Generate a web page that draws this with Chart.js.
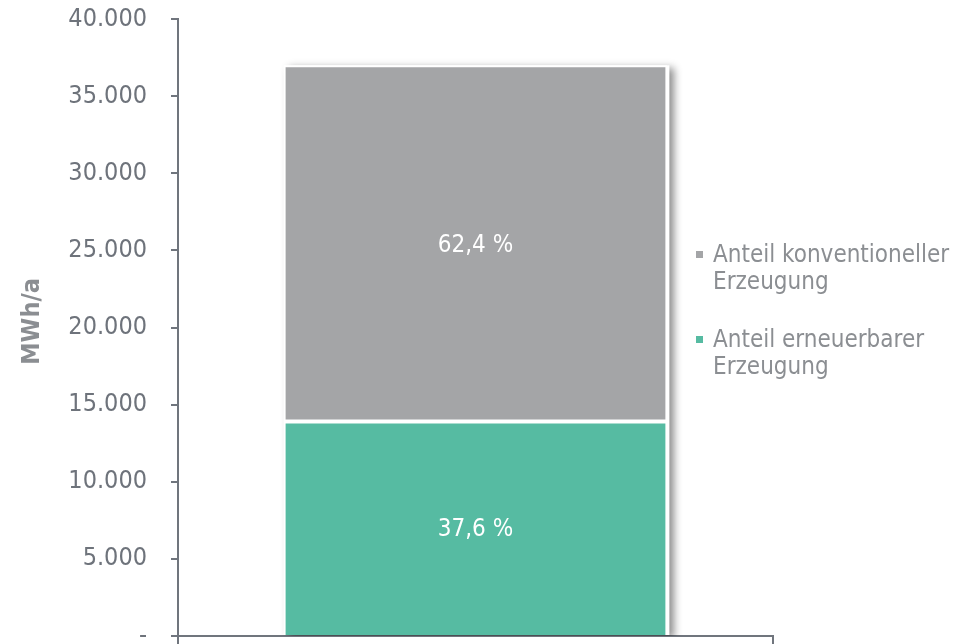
<!DOCTYPE html>
<html lang="de">
<head>
<meta charset="utf-8">
<title>Strom-Erzeugung MWh/a</title>
<script src="https://cdn.jsdelivr.net/npm/chart.js@4/dist/chart.umd.min.js"></script>
<style>
  html, body { margin: 0; padding: 0; background: #ffffff; }
  #wrap { width: 961px; height: 644px; }
</style>
</head>
<body>
<div id="wrap"><canvas id="c" width="961" height="644"></canvas></div>
<script>
// Data
const categories = [''];
const seriesNames = ['Anteil erneuerbarer Erzeugung', 'Anteil konventioneller Erzeugung'];
const renewable = [13912];
const conventional = [23088];
const yTickValues = [0, 5000, 10000, 15000, 20000, 25000, 30000, 35000, 40000];

const FONT = '"DejaVu Sans Condensed", "DejaVu Sans", Verdana, sans-serif';
const AXIS_COLOR = '#70757d';
const TEXT_COLOR = '#6e737b';
const LEGEND_COLOR = '#8b8e92';
const GREEN = '#56bba2';
const GREY = '#a4a5a7';

function fmtThousands(v) {
  if (v === 0) return '-';
  return String(v).replace(/\B(?=(\d{3})+(?!\d))/g, '.');
}

function fmtPct(v) {
  return v.toFixed(1).replace('.', ',') + ' %';
}

// White backing panel with a soft drop shadow behind the stacked column
const shadowPanel = {
  id: 'shadowPanel',
  beforeDatasetsDraw(chart) {
    const ctx = chart.ctx;
    const area = chart.chartArea;
    const bottomEl = chart.getDatasetMeta(0).data[0];
    const topEl = chart.getDatasetMeta(1).data[0];
    if (!bottomEl || !topEl) return;
    const left = topEl.x - topEl.width / 2;
    const right = topEl.x + topEl.width / 2;
    const top = topEl.y;
    const bottom = bottomEl.base;
    ctx.save();
    ctx.beginPath();
    ctx.rect(area.left, area.top - 10, area.right - area.left + 20, area.bottom - area.top + 10);
    ctx.clip();
    ctx.shadowColor = 'rgba(0,0,0,0.45)';
    ctx.shadowBlur = 8;
    ctx.shadowOffsetX = 5;
    ctx.shadowOffsetY = 3;
    ctx.fillStyle = '#ffffff';
    ctx.fillRect(left, top, right - left + 2, bottom - top);
    ctx.restore();
  }
};

// Percentage share written in the middle of each segment
const shareLabels = {
  id: 'shareLabels',
  afterDatasetsDraw(chart) {
    const ctx = chart.ctx;
    const datasets = chart.data.datasets;
    ctx.save();
    ctx.font = '24px ' + FONT;
    ctx.fillStyle = '#ffffff';
    ctx.textAlign = 'center';
    ctx.textBaseline = 'middle';
    categories.forEach((_, i) => {
      const total = datasets.reduce((s, d) => s + d.data[i], 0);
      datasets.forEach((ds, di) => {
        const el = chart.getDatasetMeta(di).data[i];
        const pct = ds.data[i] / total * 100;
        ctx.fillText(fmtPct(pct), el.x, (el.y + el.base) / 2 + 2);
      });
    });
    ctx.restore();
  }
};

// Vertical axis title
const yTitle = {
  id: 'yTitle',
  afterDraw(chart) {
    const ctx = chart.ctx;
    const area = chart.chartArea;
    ctx.save();
    ctx.font = 'bold 25px ' + FONT;
    ctx.fillStyle = LEGEND_COLOR;
    ctx.textAlign = 'center';
    ctx.textBaseline = 'middle';
    ctx.translate(32, (area.top + area.bottom) / 2 - 6);
    ctx.rotate(-Math.PI / 2);
    ctx.fillText('MWh/a', 0, 0);
    ctx.restore();
  }
};

// Legend with wrapped two-line entries, top series first
const sideLegend = {
  id: 'sideLegend',
  afterDraw(chart) {
    const ctx = chart.ctx;
    const area = chart.chartArea;
    const datasets = chart.data.datasets.slice().reverse();
    const x = area.right - 77;
    let y = area.top + 236;
    const lineH = 27;
    const maxW = 245;
    ctx.save();
    ctx.font = '24px ' + FONT;
    ctx.textBaseline = 'middle';
    datasets.forEach(ds => {
      const words = ds.label.split(' ');
      const lines = [];
      let cur = '';
      words.forEach(w => {
        const t = cur ? cur + ' ' + w : w;
        if (ctx.measureText(t).width > maxW && cur) { lines.push(cur); cur = w; } else { cur = t; }
      });
      if (cur) lines.push(cur);
      ctx.fillStyle = ds.backgroundColor;
      ctx.fillRect(x, y - 4, 7, 7);
      ctx.fillStyle = LEGEND_COLOR;
      lines.forEach((ln, k) => ctx.fillText(ln, x + 17, y + 1 + k * lineH));
      y += lines.length * lineH + 31;
    });
    ctx.restore();
  }
};

new Chart(document.getElementById('c'), {
  type: 'bar',
  data: {
    labels: categories,
    datasets: [
      {
        label: seriesNames[0],
        data: renewable,
        backgroundColor: GREEN,
        borderColor: '#ffffff',
        borderWidth: 2,
        borderSkipped: 'start'
      },
      {
        label: seriesNames[1],
        data: conventional,
        backgroundColor: GREY,
        borderColor: '#ffffff',
        borderWidth: 2,
        borderSkipped: false
      }
    ]
  },
  options: {
    responsive: false,
    animation: false,
    devicePixelRatio: 1,
    layout: { padding: { top: 19, right: 188, bottom: 0, left: 0 } },
    datasets: {
      bar: { categoryPercentage: 1, barPercentage: 0.645 }
    },
    plugins: {
      legend: { display: false },
      tooltip: { enabled: false }
    },
    scales: {
      x: {
        stacked: true,
        offset: true,
        ticks: { display: false },
        grid: {
          offset: true,
          drawOnChartArea: false,
          drawTicks: true,
          tickLength: 8,
          color: AXIS_COLOR,
          lineWidth: 2
        },
        border: { display: true, color: AXIS_COLOR, width: 2 }
      },
      y: {
        stacked: true,
        min: 0,
        max: 40000,
        afterFit(scale) {
          scale.width = 178;
          scale.paddingTop = 0;
          scale.paddingBottom = 0;
        },
        afterBuildTicks(scale) { scale.ticks = yTickValues.map(v => ({ value: v })); },
        ticks: {
          padding: 24,
          color: TEXT_COLOR,
          font: { family: FONT, size: 25 },
          callback: v => fmtThousands(v)
        },
        grid: {
          drawOnChartArea: false,
          drawTicks: true,
          tickLength: 7,
          color: AXIS_COLOR,
          lineWidth: 2
        },
        border: { display: true, color: AXIS_COLOR, width: 2 }
      }
    }
  },
  plugins: [shadowPanel, shareLabels, yTitle, sideLegend]
});
</script>
</body>
</html>
